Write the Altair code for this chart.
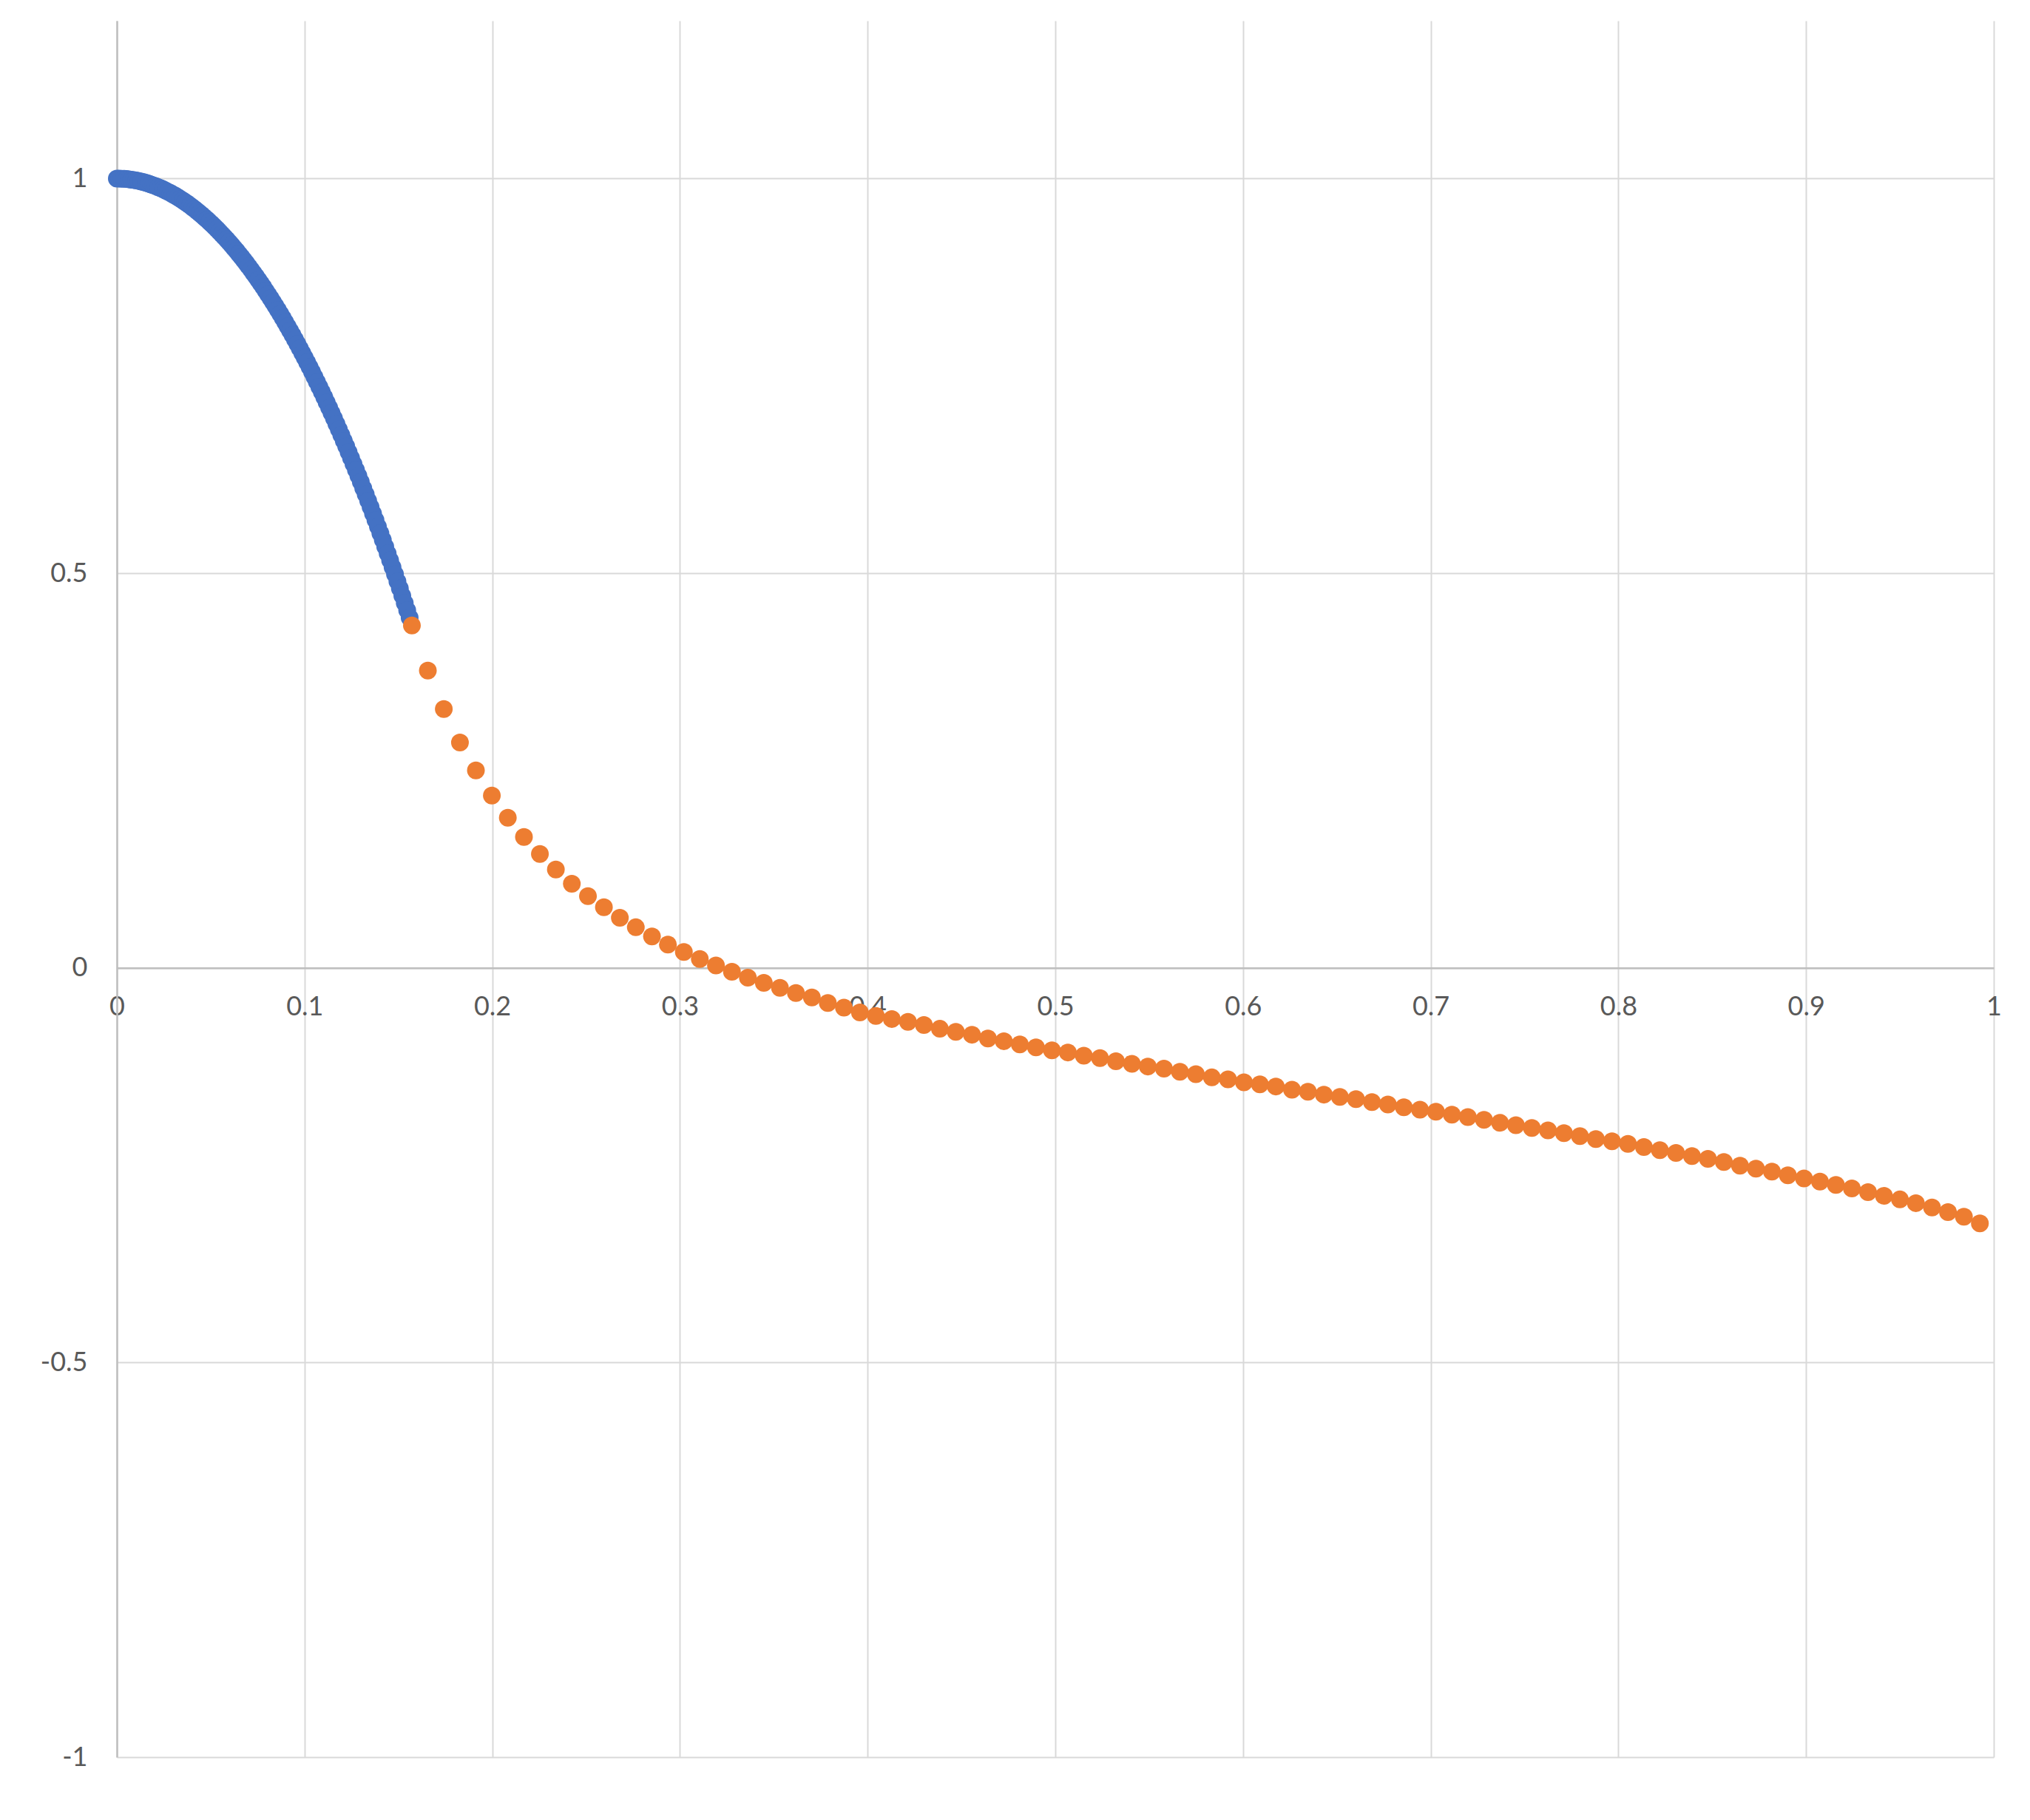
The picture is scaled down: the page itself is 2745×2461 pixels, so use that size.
import altair as alt
import pandas as pd

# ---- data ----
blue_x = [
    0.0, 0.0013, 0.0026, 0.0039, 0.0052, 0.0065, 0.0078, 0.0091, 0.0104, 0.0117,
    0.0130, 0.0143, 0.0156, 0.0169, 0.0182, 0.0195, 0.0208, 0.0221, 0.0234, 0.0247,
    0.0260, 0.0273, 0.0286, 0.0299, 0.0312, 0.0325, 0.0338, 0.0351, 0.0364, 0.0377,
    0.0390, 0.0403, 0.0416, 0.0429, 0.0442, 0.0455, 0.0468, 0.0481, 0.0494, 0.0507,
    0.0520, 0.0533, 0.0546, 0.0559, 0.0572, 0.0585, 0.0598, 0.0611, 0.0624, 0.0637,
    0.0650, 0.0663, 0.0676, 0.0689, 0.0702, 0.0715, 0.0728, 0.0741, 0.0754, 0.0767,
    0.0780, 0.0793, 0.0806, 0.0819, 0.0832, 0.0845, 0.0858, 0.0871, 0.0884, 0.0897,
    0.0910, 0.0923, 0.0936, 0.0949, 0.0962, 0.0975, 0.0988, 0.1001, 0.1014, 0.1027,
    0.1040, 0.1053, 0.1066, 0.1079, 0.1092, 0.1105, 0.1118, 0.1131, 0.1144, 0.1157,
    0.1170, 0.1183, 0.1196, 0.1209, 0.1222, 0.1235, 0.1248, 0.1261, 0.1274, 0.1287,
    0.1300, 0.1313, 0.1326, 0.1339, 0.1352, 0.1365, 0.1378, 0.1391, 0.1404, 0.1417,
    0.1430, 0.1443, 0.1456, 0.1469, 0.1482, 0.1495, 0.1508, 0.1521, 0.1534, 0.1547,
    0.1560,
]
blue_y = [
    1.0000, 1.0000, 0.9998, 0.9997, 0.9994, 0.9990, 0.9986, 0.9981, 0.9976, 0.9969,
    0.9962, 0.9954, 0.9945, 0.9936, 0.9925, 0.9914, 0.9903, 0.9890, 0.9877, 0.9863,
    0.9848, 0.9832, 0.9816, 0.9799, 0.9781, 0.9762, 0.9743, 0.9723, 0.9702, 0.9680,
    0.9657, 0.9634, 0.9610, 0.9585, 0.9560, 0.9534, 0.9506, 0.9479, 0.9450, 0.9421,
    0.9391, 0.9360, 0.9328, 0.9295, 0.9262, 0.9228, 0.9193, 0.9158, 0.9122, 0.9085,
    0.9047, 0.9008, 0.8969, 0.8929, 0.8888, 0.8846, 0.8803, 0.8760, 0.8716, 0.8671,
    0.8626, 0.8579, 0.8532, 0.8484, 0.8435, 0.8386, 0.8336, 0.8284, 0.8233, 0.8180,
    0.8126, 0.8072, 0.8017, 0.7961, 0.7905, 0.7848, 0.7789, 0.7730, 0.7671, 0.7610,
    0.7549, 0.7487, 0.7424, 0.7360, 0.7296, 0.7230, 0.7164, 0.7097, 0.7030, 0.6961,
    0.6892, 0.6822, 0.6751, 0.6679, 0.6607, 0.6533, 0.6459, 0.6384, 0.6309, 0.6232,
    0.6155, 0.6076, 0.5998, 0.5918, 0.5837, 0.5756, 0.5673, 0.5590, 0.5506, 0.5422,
    0.5336, 0.5250, 0.5163, 0.5075, 0.4986, 0.4896, 0.4806, 0.4714, 0.4622, 0.4529,
    0.4436,
]

orange_x = [
    0.1572, 0.1657, 0.1742, 0.1828, 0.1913, 0.1998, 0.2083, 0.2169, 0.2254, 0.2339,
    0.2424, 0.2510, 0.2595, 0.2680, 0.2765, 0.2851, 0.2936, 0.3021, 0.3106, 0.3192,
    0.3277, 0.3362, 0.3447, 0.3533, 0.3618, 0.3703, 0.3788, 0.3874, 0.3959, 0.4044,
    0.4129, 0.4215, 0.4300, 0.4385, 0.4470, 0.4556, 0.4641, 0.4726, 0.4811, 0.4897,
    0.4982, 0.5067, 0.5152, 0.5238, 0.5323, 0.5408, 0.5493, 0.5579, 0.5664, 0.5749,
    0.5834, 0.5920, 0.6005, 0.6090, 0.6175, 0.6261, 0.6346, 0.6431, 0.6516, 0.6602,
    0.6687, 0.6772, 0.6857, 0.6943, 0.7028, 0.7113, 0.7198, 0.7284, 0.7369, 0.7454,
    0.7539, 0.7625, 0.7710, 0.7795, 0.7880, 0.7966, 0.8051, 0.8136, 0.8221, 0.8307,
    0.8392, 0.8477, 0.8562, 0.8648, 0.8733, 0.8818, 0.8903, 0.8989, 0.9074, 0.9159,
    0.9244, 0.9330, 0.9415, 0.9500, 0.9585, 0.9671, 0.9756, 0.9841, 0.9926,
]
orange_y = [
    0.4337, 0.3767, 0.3279, 0.2856, 0.2501, 0.2182, 0.1902, 0.1658, 0.1442, 0.1246,
    0.1066, 0.0908, 0.0768, 0.0635, 0.0514, 0.0399, 0.0295, 0.0202, 0.0112, 0.0030,
    -0.0050, -0.0125, -0.0189, -0.0254, -0.0318, -0.0376, -0.0445, -0.0505, -0.0565, -0.0610,
    -0.0648, -0.0685, -0.0725, -0.0772, -0.0810, -0.0847, -0.0894, -0.0929, -0.0969, -0.1007,
    -0.1044, -0.1072, -0.1113, -0.1144, -0.1184, -0.1216, -0.1250, -0.1276, -0.1316, -0.1347,
    -0.1388, -0.1412, -0.1450, -0.1475, -0.1503, -0.1544, -0.1569, -0.1606, -0.1635, -0.1663,
    -0.1700, -0.1731, -0.1766, -0.1797, -0.1822, -0.1860, -0.1891, -0.1925, -0.1963, -0.1994,
    -0.2028, -0.2059, -0.2094, -0.2131, -0.2169, -0.2197, -0.2231, -0.2269, -0.2309, -0.2344,
    -0.2384, -0.2419, -0.2459, -0.2506, -0.2544, -0.2581, -0.2628, -0.2668, -0.2709, -0.2750,
    -0.2794, -0.2841, -0.2888, -0.2934, -0.2981, -0.3037, -0.3094, -0.3153, -0.3237,
]

x_ticks = [0, 0.1, 0.2, 0.3, 0.4, 0.5, 0.6, 0.7, 0.8, 0.9, 1]
y_ticks = [-1, -0.5, 0, 0.5, 1]
series_names = ["Series1", "Series2"]
series_colors = ["#4472C4", "#ED7D31"]

df = pd.DataFrame({
    "x": blue_x + orange_x,
    "y": blue_y + orange_y,
    "series": [series_names[0]] * len(blue_x) + [series_names[1]] * len(orange_x),
})

W = 2538
H = 2348
Y_MIN, Y_MAX = -1, 1.2
x_axis_offset = -H * (0 - Y_MIN) / (Y_MAX - Y_MIN)

label_style = dict(labelFont="Lato", labelFontSize=36, labelColor="#595959")

chart = (
    alt.Chart(df)
    .mark_circle(size=576, opacity=1)
    .encode(
        x=alt.X(
            "x:Q",
            scale=alt.Scale(domain=[0, 1], nice=False, zero=False),
            axis=alt.Axis(
                values=x_ticks,
                labelExpr="'' + datum.value",
                offset=x_axis_offset,
                grid=True,
                gridColor="#d9d9d9",
                gridWidth=2,
                domainColor="#bfbfbf",
                domainWidth=2.5,
                ticks=False,
                labelPadding=36,
                labelAngle=0,
                labelFlush=False,
                labelOverlap=False,
                title=None,
                **label_style,
            ),
        ),
        y=alt.Y(
            "y:Q",
            scale=alt.Scale(domain=[Y_MIN, Y_MAX], nice=False, zero=False),
            axis=alt.Axis(
                values=y_ticks,
                labelExpr="'' + datum.value",
                grid=True,
                gridColor="#d9d9d9",
                gridWidth=2,
                domainColor="#bfbfbf",
                domainWidth=2.5,
                ticks=False,
                labelPadding=40,
                labelFlush=False,
                labelOverlap=False,
                title=None,
                **label_style,
            ),
        ),
        color=alt.Color(
            "series:N",
            scale=alt.Scale(domain=series_names, range=series_colors),
            legend=None,
        ),
    )
    .properties(
        width=W,
        height=H,
        autosize=alt.AutoSizeParams(type="none"),
        padding={"left": 150, "top": 20, "right": 30, "bottom": 50},
        background="white",
    )
    .configure_view(stroke=None)
)

chart.save("out.html", embed_options={"renderer": "svg", "actions": False})
